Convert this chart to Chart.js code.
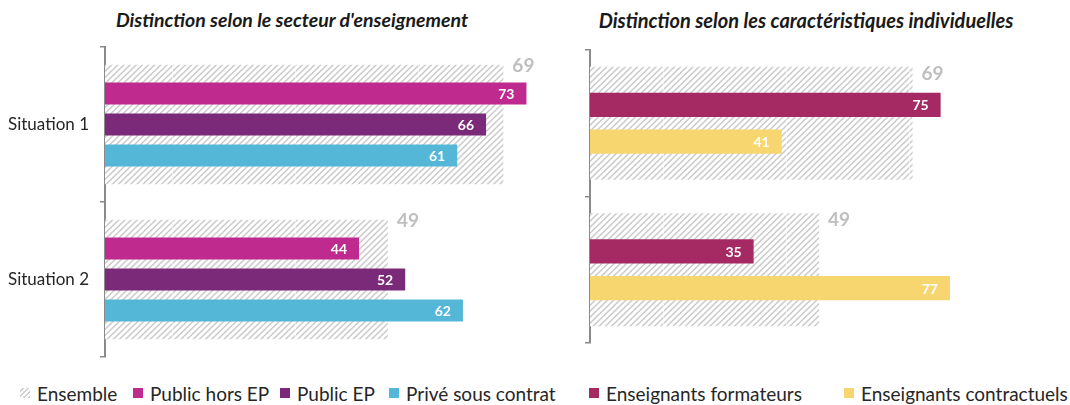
<!DOCTYPE html>
<html>
<head>
<meta charset="utf-8">
<script src="https://cdn.jsdelivr.net/npm/chart.js@4"></script>
<style>
  body { margin: 0; background: #fff; font-family: Lato, sans-serif; }
  #wrap { position: relative; width: 1070px; height: 405px; overflow: hidden; }
  canvas { position: absolute; top: 0; }
  .title { position: absolute; top: 8px; width: 460px; text-align: center; white-space: nowrap;
           font-weight: bold; font-style: italic; font-size: 19.5px; color: #1a1a1a; }
  .leg { position: absolute; top: 383px; height: 20px; display: flex; align-items: center;
         white-space: nowrap; font-size: 19px; color: #262626; }
  .sw { width: 10px; height: 10px; margin-right: 7px; }
</style>
</head>
<body>
<div id="wrap">
  <div class="title" style="left:62px">Distinction selon le secteur d'enseignement</div>
  <div class="title" style="left:576px;font-size:20px">Distinction selon les caractéristiques individuelles</div>
  <canvas id="left" width="560" height="370" style="left:0"></canvas>
  <canvas id="right" width="510" height="370" style="left:560px"></canvas>
  <div id="legend"></div>
</div>
<script>
const categories = ['Situation 1', 'Situation 2'];
const ensemble = [69, 49];
const publicHorsEP = [73, 44];
const publicEP = [66, 52];
const priveSousContrat = [61, 62];
const formateurs = [75, 35];
const contractuels = [41, 77];

const colors = {
    horsEP: '#BE2A8E',
    ep: '#7B2979',
    prive: '#55B7D8',
    formateurs: '#A52A64',
    contractuels: '#F7D56F'
};

// diagonal hatch used for "Ensemble"
function hatch(ctx, offset) {
    const c = document.createElement('canvas');
    c.width = 123; c.height = 6;
    const g = c.getContext('2d');
    g.fillStyle = '#fff';
    g.fillRect(0, 0, c.width, c.height);
    g.strokeStyle = '#cbcbcb';
    g.lineWidth = 1.5;
    const p = 123 / 20;
    for (let i = -2; i <= 22; i++) {
        g.beginPath();
        g.moveTo(i * p - p, 12);
        g.lineTo(i * p + 2 * p, -6);
        g.stroke();
    }
    g.fillStyle = 'rgba(255,255,255,0.55)';
    g.fillRect(0, 0, 1, 6);
    const pat = ctx.createPattern(c, 'repeat');
    pat.setTransform(new DOMMatrix([1, 0, 0, 1, offset, 0]));
    return pat;
}

function valueLabels(ensembleDy) {
    return {
        id: 'valueLabels',
        afterDatasetsDraw(chart) {
            const ctx = chart.ctx;
            chart.data.datasets.forEach((ds, i) => {
                chart.getDatasetMeta(i).data.forEach((bar, j) => {
                    const v = ds.data[j];
                    ctx.save();
                    ctx.textBaseline = 'middle';
                    if (ds.label === 'Ensemble') {
                        ctx.fillStyle = '#bfbfbf';
                        ctx.font = 'bold 19px Lato';
                        ctx.textAlign = 'left';
                        ctx.fillText(v, bar.x + 9, bar.y - bar.height / 2 + ensembleDy);
                    } else {
                        ctx.fillStyle = '#fff';
                        ctx.font = 'bold 14px Lato';
                        ctx.textAlign = 'right';
                        ctx.fillText(v, bar.x - 12, bar.y + 1);
                    }
                    ctx.restore();
                });
            });
        }
    };
}

function makeChart(id, cfg) {
    const canvas = document.getElementById(id);
    const ctx = canvas.getContext('2d');
    const datasets = [{
        label: 'Ensemble',
        data: ensemble,
        backgroundColor: hatch(ctx, cfg.seam),
        borderWidth: 0,
        grouped: false,
        categoryPercentage: 0.77,
        barPercentage: 1,
        order: 2
    }].concat(cfg.series.map(s => ({
        label: s.label,
        data: s.data,
        backgroundColor: s.color,
        borderWidth: 0,
        categoryPercentage: cfg.catPct,
        barPercentage: cfg.barPct,
        order: 1
    })));

    return new Chart(ctx, {
        type: 'bar',
        plugins: [valueLabels(cfg.labelDy)],
        data: { labels: categories, datasets: datasets },
        options: {
            indexAxis: 'y',
            responsive: false,
            animation: false,
            layout: { padding: cfg.padding },
            plugins: { legend: { display: false }, tooltip: { enabled: false } },
            scales: {
                x: { type: 'linear', min: 0, max: cfg.max, display: false },
                y: {
                    type: 'category',
                    offset: true,
                    afterFit: (scale) => {
                        scale.width = cfg.axisLeft;
                        scale.paddingTop = 0;
                        scale.paddingBottom = 0;
                    },
                    grid: { offset: true, drawOnChartArea: false, drawTicks: true, tickLength: 5, color: '#8a8a8a', lineWidth: 1.5 },
                    border: { display: true, color: '#8a8a8a', width: 2 },
                    ticks: { display: cfg.showLabels, padding: 11, color: '#262626', font: { family: 'Lato', size: 17 } }
                }
            }
        }
    });
}

makeChart('left', {
    max: 75,
    axisLeft: 105,
    showLabels: true,
    seam: 49,
    catPct: 0.6,
    barPct: 0.71,
    labelDy: 1,
    padding: { top: 47, bottom: 13, right: 22, left: 0 },
    series: [
        { label: 'Public hors EP', data: publicHorsEP, color: colors.horsEP },
        { label: 'Public EP', data: publicEP, color: colors.ep },
        { label: 'Privé sous contrat', data: priveSousContrat, color: colors.prive }
    ]
});

makeChart('right', {
    max: 80,
    axisLeft: 30,
    showLabels: false,
    seam: 103,
    catPct: 0.5,
    barPct: 0.66,
    labelDy: 7,
    padding: { top: 50, bottom: 27, right: 106, left: 0 },
    series: [
        { label: 'Enseignants formateurs', data: formateurs, color: colors.formateurs },
        { label: 'Enseignants contractuels', data: contractuels, color: colors.contractuels }
    ]
});

// legend under both charts
const legendItems = [
    { label: 'Ensemble', x: 20, hatch: true },
    { label: 'Public hors EP', x: 133, color: colors.horsEP },
    { label: 'Public EP', x: 280, color: colors.ep },
    { label: 'Privé sous contrat', x: 389, color: colors.prive },
    { label: 'Enseignants formateurs', x: 589, color: colors.formateurs },
    { label: 'Enseignants contractuels', x: 844, color: colors.contractuels }
];
const legend = document.getElementById('legend');
legendItems.forEach(it => {
    const el = document.createElement('div');
    el.className = 'leg';
    el.style.left = it.x + 'px';
    const sw = document.createElement('span');
    sw.className = 'sw';
    sw.style.background = it.hatch
        ? 'repeating-linear-gradient(135deg, #fff 0 2px, #cfcfcf 2px 3.5px)'
        : it.color;
    el.appendChild(sw);
    el.appendChild(document.createTextNode(it.label));
    legend.appendChild(el);
});
</script>
</body>
</html>
